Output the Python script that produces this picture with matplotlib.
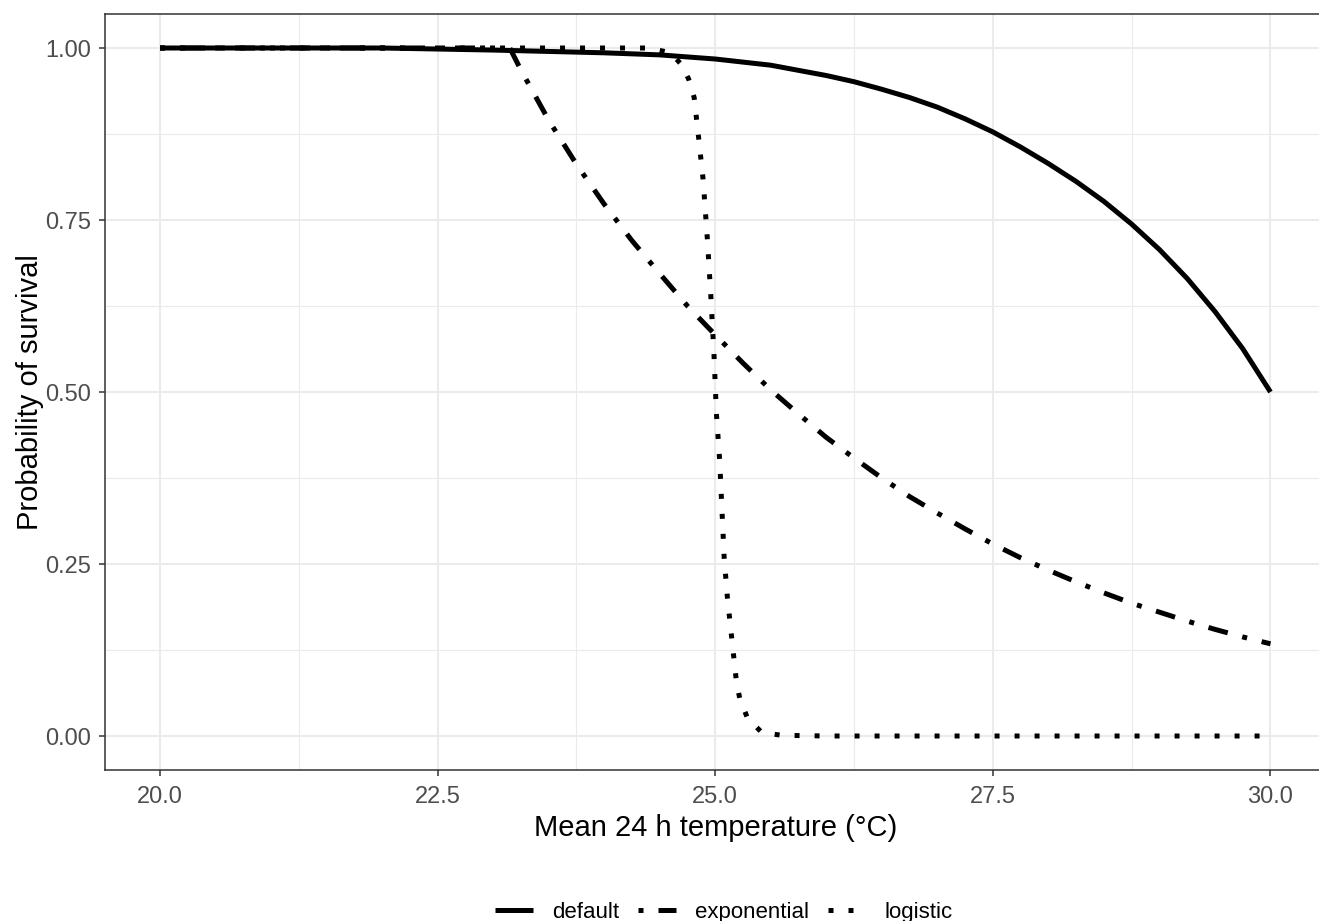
import matplotlib
matplotlib.use("Agg")
import matplotlib.pyplot as plt
from matplotlib.ticker import MultipleLocator

plt.rcParams['font.family'] = ['Liberation Sans', 'DejaVu Sans']

# ---- data ----
default_x = [20.0, 22.0, 23.0, 24.0, 24.5, 25.0, 25.5, 26.0, 26.25, 26.5, 26.75,
             27.0, 27.25, 27.5, 27.75, 28.0, 28.25, 28.5, 28.75, 29.0, 29.25,
             29.5, 29.75, 30.0]
default_y = [1.0, 1.0, 0.997, 0.993, 0.99, 0.984, 0.975, 0.960, 0.951, 0.940, 0.928,
             0.914, 0.897, 0.878, 0.856, 0.832, 0.806, 0.777, 0.744, 0.707, 0.665,
             0.617, 0.563, 0.5]

exp_x = [20.0, 23.15, 23.25, 23.5, 23.75, 24.0, 24.25, 24.5, 24.75, 25.0, 25.25,
         25.5, 25.75, 26.0, 26.25, 26.5, 26.75, 27.0, 27.25, 27.5, 27.75, 28.0,
         28.25, 28.5, 28.75, 29.0, 29.25, 29.5, 29.75, 30.0]
exp_y = [1.0, 1.0, 0.968, 0.895, 0.831, 0.773, 0.72, 0.672, 0.625, 0.583, 0.542,
         0.503, 0.468, 0.434, 0.404, 0.375, 0.348, 0.324, 0.301, 0.279, 0.259, 0.241,
         0.224, 0.208, 0.193, 0.180, 0.167, 0.155, 0.144, 0.134]

log_x = [20.0, 24.4, 24.6, 24.7, 24.76, 24.81, 24.85, 24.89, 24.93, 24.96, 24.99,
         25.01, 25.04, 25.06, 25.08, 25.11, 25.15, 25.19, 25.22, 25.29, 25.42, 25.6,
         26.0, 30.0]
log_y = [1.0, 1.0, 0.993, 0.975, 0.955, 0.928, 0.87, 0.81, 0.72, 0.64, 0.55,
         0.47, 0.40, 0.33, 0.26, 0.20, 0.14, 0.08, 0.055, 0.026, 0.005, 0.001,
         0.0, 0.0]

labels = ["default", "exponential", "logistic"]
x_ticks = [20.0, 22.5, 25.0, 27.5, 30.0]
y_ticks = [0.00, 0.25, 0.50, 0.75, 1.00]

# ---- figure ----
W, H = 1319, 921
fig = plt.figure(figsize=(W / 100, H / 100), dpi=100)
left, right = 104.5, 1326.0
top, bottom = 13.6, 770.4
ax = fig.add_axes([left / W, 1 - bottom / H, (right - left) / W, (bottom - top) / H])

lw = 3.6
l1, = ax.plot(default_x, default_y, color='black', lw=lw, solid_capstyle='butt',
              solid_joinstyle='round', label=labels[0], zorder=3)
l2, = ax.plot(exp_x, exp_y, color='black', lw=lw, linestyle=(0, (1, 3, 4, 3)),
              label=labels[1], zorder=3)
l3, = ax.plot(log_x, log_y, color='black', lw=lw, linestyle=(0, (1, 3)),
              label=labels[2], zorder=3)

ax.set_xlim(19.5, 30.5)
ax.set_ylim(-0.05, 1.05)
ax.set_xticks(x_ticks)
ax.set_xticklabels([f"{v:.1f}" for v in x_ticks])
ax.set_yticks(y_ticks)
ax.set_yticklabels([f"{v:.2f}" for v in y_ticks])
ax.xaxis.set_minor_locator(MultipleLocator(1.25))
ax.yaxis.set_minor_locator(MultipleLocator(0.125))

ax.grid(which='major', color='#EBEBEB', lw=1.5, zorder=0)
ax.grid(which='minor', color='#EBEBEB', lw=0.8, zorder=0)
ax.set_axisbelow(True)

for s in ax.spines.values():
    s.set_color('#333333')
    s.set_linewidth(1.1)

ax.tick_params(which='major', length=4.5, width=1.1, color='#333333',
               labelsize=17, labelcolor='#4D4D4D')
ax.tick_params(axis='x', which='major', pad=7)
ax.tick_params(axis='y', which='major', pad=5)
ax.tick_params(which='minor', length=0)

ax.set_xlabel("Mean 24 h temperature (°C)", fontsize=21, color='black', labelpad=4)
ax.set_ylabel("Probability of survival", fontsize=21, color='black', labelpad=1)

fig.legend(handles=[l1, l2, l3], labels=labels, loc='center',
           bbox_to_anchor=(724 / W, 1 - 912 / H), ncol=3, frameon=False,
           fontsize=16, handlelength=1.7, handletextpad=0.85, columnspacing=0.85)

fig.savefig("out.png", dpi=100, facecolor='white')
